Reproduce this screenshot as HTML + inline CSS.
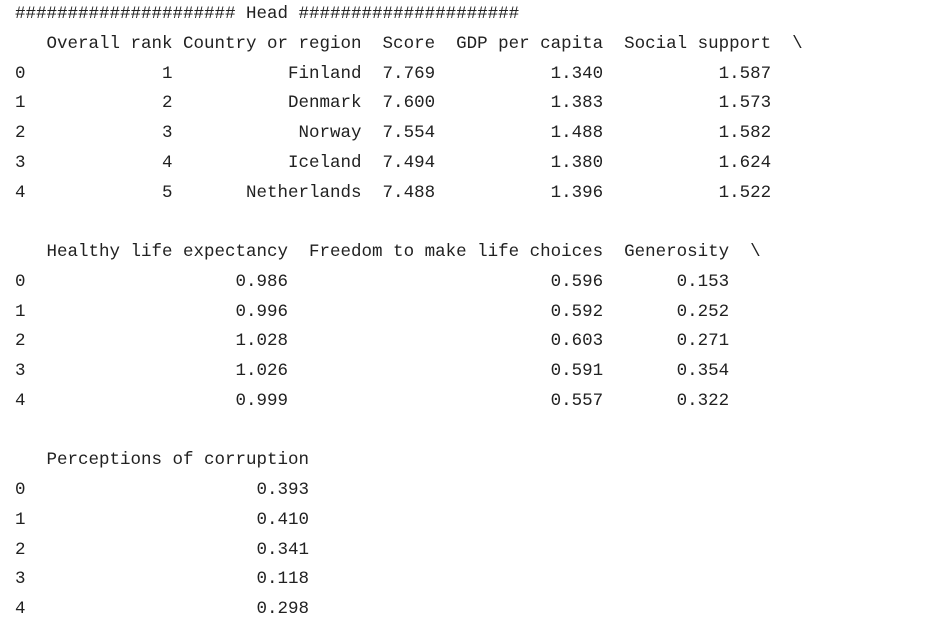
<!DOCTYPE html>
<html>
<head>
<meta charset="utf-8">
<style>
  html, body { margin: 0; padding: 0; background: #ffffff; width: 927px; height: 626px; overflow: hidden; }
  pre {
    margin: 0;
    position: absolute;
    left: 15px;
    top: 0px;
    font-family: "Liberation Mono", "DejaVu Sans Mono", monospace;
    font-size: 17.5px;
    line-height: 29.75px;
    color: #212121;
    white-space: pre;
  }
</style>
</head>
<body>
<pre>##################### Head #####################
   Overall rank Country or region  Score  GDP per capita  Social support  \
0             1           Finland  7.769           1.340           1.587   
1             2           Denmark  7.600           1.383           1.573   
2             3            Norway  7.554           1.488           1.582   
3             4           Iceland  7.494           1.380           1.624   
4             5       Netherlands  7.488           1.396           1.522   

   Healthy life expectancy  Freedom to make life choices  Generosity  \
0                    0.986                         0.596       0.153   
1                    0.996                         0.592       0.252   
2                    1.028                         0.603       0.271   
3                    1.026                         0.591       0.354   
4                    0.999                         0.557       0.322   

   Perceptions of corruption  
0                      0.393  
1                      0.410  
2                      0.341  
3                      0.118  
4                      0.298  </pre>
</body>
</html>
